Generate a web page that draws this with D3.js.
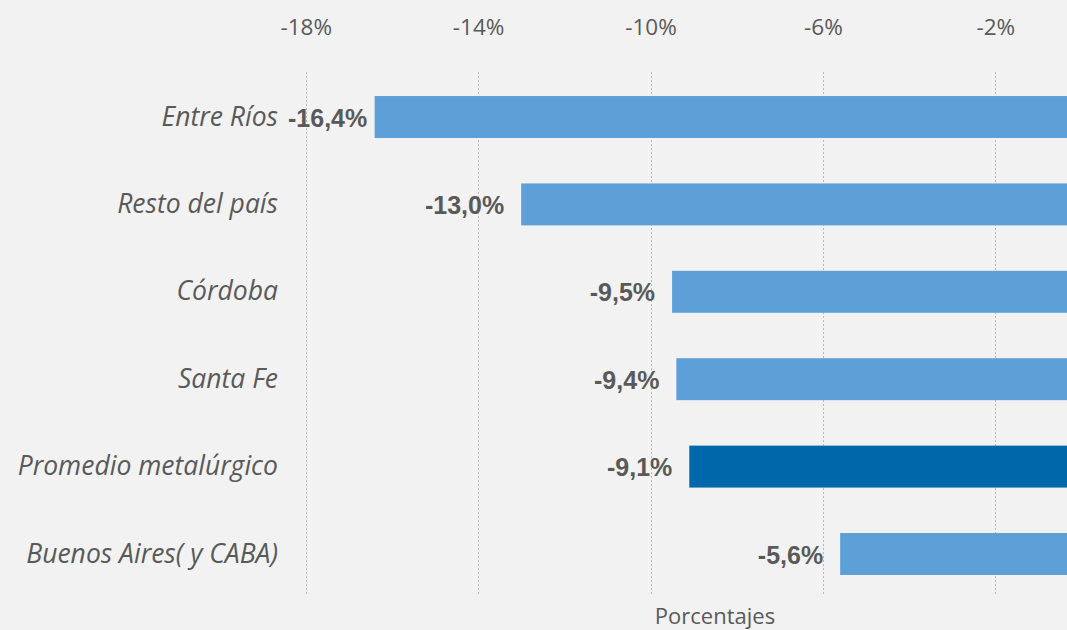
<!DOCTYPE html>
<html>
<head>
<meta charset="utf-8">
<script src="https://cdn.jsdelivr.net/npm/d3@7"></script>
<style>
  html, body { margin: 0; padding: 0; background: #f2f2f2; }
  svg { display: block; }
</style>
</head>
<body>
<svg id="chart" width="1067" height="630"></svg>
<script>
const categories = ["Entre Ríos", "Resto del país", "Córdoba", "Santa Fe", "Promedio metalúrgico", "Buenos Aires( y CABA)"];
const values = [-16.4, -13.0, -9.5, -9.4, -9.1, -5.6];
const highlight = [false, false, false, false, true, false];
const tickValues = [-18, -14, -10, -6, -2];
const axisTitle = "Porcentajes";

const W = 1067, H = 630;
const svg = d3.select("#chart");
svg.append("rect").attr("width", W).attr("height", H).attr("fill", "#f2f2f2");

const x = d3.scaleLinear().domain([-18, -2]).range([305.7, 995.3]);
const y = d3.scaleBand().domain(categories).range([73.3, 597.7]).paddingInner(0.52).paddingOuter(0.26);

const fmt = v => (v < 0 ? "-" : "") + Math.abs(v).toFixed(1).replace(".", ",") + "%";

// gridlines
svg.append("g").selectAll("line").data(tickValues).join("line")
  .attr("x1", d => Math.round(x(d)) + 0.5).attr("x2", d => Math.round(x(d)) + 0.5)
  .attr("y1", 72).attr("y2", 595)
  .attr("stroke", "#b8b8b8").attr("stroke-width", 1).attr("stroke-dasharray", "2,2");

// top axis
const axis = d3.axisTop(x).tickValues(tickValues).tickSize(0).tickFormat(d => d + "%");
const ag = svg.append("g").attr("transform", "translate(0,38)").call(axis);
ag.select(".domain").remove();
ag.selectAll("text").attr("dy", 0).attr("fill", "#595959")
  .style("font-family", "'Open Sans', sans-serif").style("font-size", "22.5px");

// bars
svg.append("g").selectAll("rect").data(values).join("rect")
  .attr("x", d => x(d))
  .attr("y", (d, i) => y(categories[i]))
  .attr("width", d => x(0) - x(d))
  .attr("height", y.bandwidth())
  .attr("fill", (d, i) => highlight[i] ? "#0068aa" : "#5da0d7");

// category labels
svg.append("g").selectAll("text").data(categories).join("text")
  .attr("x", 278)
  .attr("y", d => y(d) + y.bandwidth() / 2 + 8.5)
  .attr("text-anchor", "end")
  .attr("fill", "#595959")
  .style("font-family", "'Open Sans', sans-serif").style("font-style", "italic").style("font-size", "26.5px")
  .text(d => d);

// value labels
const vl = svg.append("g").selectAll("text").data(values).join("text")
  .attr("y", (d, i) => y(categories[i]) + y.bandwidth() / 2 + 9.5)
  .attr("text-anchor", "end")
  .attr("fill", "#595959")
  .style("font-family", "'Liberation Sans', Arial, sans-serif").style("font-weight", "bold").style("font-size", "25px")
  .text(d => fmt(d));
vl.each(function(d) {
  const w = this.getComputedTextLength();
  let right = x(d) - 17;
  if (right - w < 288) right = 288 + w;
  d3.select(this).attr("x", right);
});

// axis title
svg.append("text").attr("x", 715).attr("y", 624).attr("text-anchor", "middle")
  .attr("fill", "#595959")
  .style("font-family", "'Open Sans', sans-serif").style("font-size", "22px")
  .text(axisTitle);
</script>
</body>
</html>
